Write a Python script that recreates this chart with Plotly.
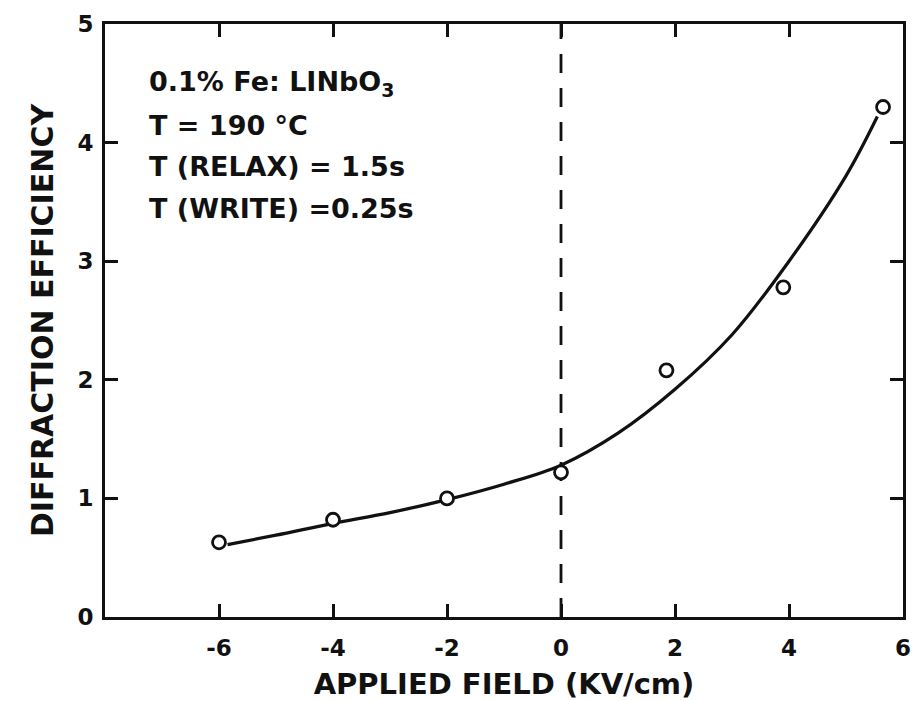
import plotly.graph_objects as go

# Measured diffraction efficiency vs applied field
field_kv_cm = [-6.0, -4.0, -2.0, 0.0, 1.85, 3.9, 5.65]
efficiency = [0.63, 0.82, 1.0, 1.22, 2.08, 2.78, 4.3]

# Smooth curve drawn through the data
curve_field = [-5.85, -5.0, -4.0, -3.0, -2.0, -1.0, 0.0, 1.0, 2.0, 3.0, 4.0, 5.0, 5.55]
curve_eff = [0.61, 0.69, 0.79, 0.88, 0.99, 1.12, 1.28, 1.55, 1.92, 2.38, 3.0, 3.72, 4.22]

# Zero-field reference line
zero_x = [0, 0]
zero_y = [0, 5]

x_ticks = [-6, -4, -2, 0, 2, 4, 6]
x_tick_text = ["-6", "-4", "-2", "0", "2", "4", "6"]
y_ticks = [0, 1, 2, 3, 4, 5]
y_tick_text = ["0", "1", "2", "3", "4", "5"]

info_lines = [
    "0.1% Fe: LINbO<sub>3</sub>",
    "T = 190 °C",
    "T (RELAX) = 1.5s",
    "T (WRITE) =0.25s",
]

FONT = "DejaVu Sans"
INK = "#111111"

fig = go.Figure()

fig.add_trace(go.Scatter(
    x=zero_x, y=zero_y, mode="lines",
    line=dict(color=INK, width=2.8, dash="19px,15px"),
    hoverinfo="skip", showlegend=False,
))

fig.add_trace(go.Scatter(
    x=curve_field, y=curve_eff, mode="lines",
    line=dict(color=INK, width=3.2, shape="spline", smoothing=1.0),
    showlegend=False,
))

fig.add_trace(go.Scatter(
    x=field_kv_cm, y=efficiency, mode="markers",
    marker=dict(symbol="circle", size=13, color="white",
                line=dict(color=INK, width=2.8)),
    showlegend=False,
))

for i, txt in enumerate(info_lines):
    fig.add_annotation(
        x=0.053, xref="paper", y=0.90 - i * 0.0705, yref="paper",
        text=txt, showarrow=False, xanchor="left", yanchor="middle",
        font=dict(family=FONT, size=27, color=INK, weight="bold"),
    )

axis_common = dict(
    showline=True, linecolor=INK, linewidth=3, mirror="ticks",
    ticks="inside", ticklen=13, tickwidth=2.5, tickcolor=INK,
    showgrid=False, zeroline=False, automargin=False,
    tickfont=dict(family=FONT, size=23, color=INK, weight="bold"),
)

fig.update_xaxes(
    range=[-8, 6], tickvals=x_ticks, ticktext=x_tick_text,
    ticklabelstandoff=8,
    title=dict(text="APPLIED FIELD (KV/cm)",
               font=dict(family=FONT, size=29, color=INK, weight="bold")),
    **axis_common,
)
fig.update_yaxes(
    range=[0, 5], tickvals=y_ticks, ticktext=y_tick_text,
    ticklabelstandoff=4,
    title=dict(text="DIFFRACTION EFFICIENCY",
               font=dict(family=FONT, size=30, color=INK, weight="bold")),
    **axis_common,
)

fig.update_layout(
    width=913, height=701,
    margin=dict(l=105, r=10, t=24, b=84),
    paper_bgcolor="white", plot_bgcolor="white",
    showlegend=False,
)

fig.write_html("out.html")
